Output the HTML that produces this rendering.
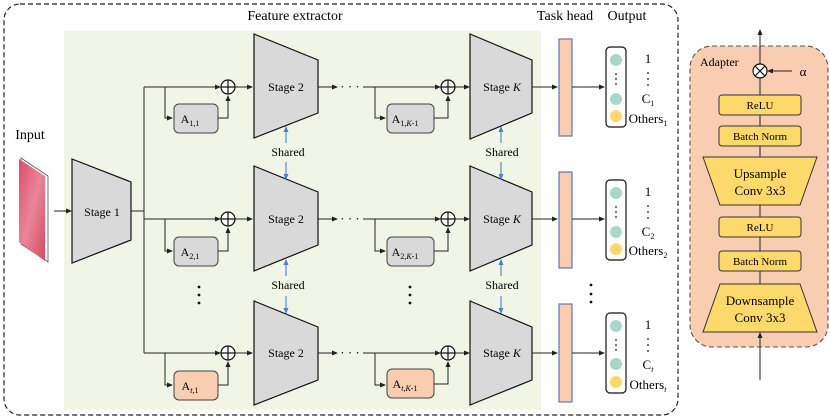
<!DOCTYPE html>
<html><head><meta charset="utf-8"><style>
html,body{margin:0;padding:0;background:#fff;}
svg{display:block;}
text,tspan{font-family:"Liberation Serif","DejaVu Serif",serif;}
</style></head><body>
<svg width="830" height="419" viewBox="0 0 830 419" xmlns="http://www.w3.org/2000/svg" font-family="'Liberation Serif', serif">
<defs>
<marker id="ar" markerWidth="6" markerHeight="6" refX="5" refY="3" orient="auto" markerUnits="userSpaceOnUse"><path d="M0,0.5 L6,3 L0,5.5 z" fill="#222"/></marker>
<marker id="ab" markerWidth="6" markerHeight="6" refX="5" refY="3" orient="auto" markerUnits="userSpaceOnUse"><path d="M0,0.5 L6,3 L0,5.5 z" fill="#4a7fd0"/></marker>
<linearGradient id="img" x1="0" y1="0" x2="1" y2="1"><stop offset="0" stop-color="#d9506a"/><stop offset="0.5" stop-color="#e9869a"/><stop offset="1" stop-color="#d44a5c"/></linearGradient>
</defs>
<rect x="4" y="4" width="674" height="411" rx="16" fill="none" stroke="#222" stroke-width="1.2" stroke-dasharray="5,3"/>
<rect x="64" y="31" width="477" height="379" fill="#f1f5e5"/>
<text x="295" y="20" font-size="14" text-anchor="middle">Feature extractor</text>
<text x="565" y="20" font-size="14" text-anchor="middle">Task head</text>
<text x="627" y="20" font-size="14" text-anchor="middle">Output</text>
<text x="30" y="139" font-size="14" text-anchor="middle">Input</text>
<polygon points="21,158 48,176 48,262 21,244" fill="#fff" stroke="#555" stroke-width="0.8"/>
<polygon points="19,159 45,176 45,261 19,242" fill="url(#img)"/>
<line x1="54" y1="211" x2="71" y2="211" stroke="#222" marker-end="url(#ar)"/>
<polygon points="72,159 131,182 131,240 72,263" fill="#d9d9d9" stroke="#111" stroke-width="1.2"/>
<text x="102" y="216" font-size="12" text-anchor="middle">Stage 1</text>
<polyline points="131,211 144,211" fill="none" stroke="#222"/>
<line x1="144" y1="87" x2="144" y2="353" stroke="#222"/>

<g>
<line x1="144" y1="87" x2="220" y2="87" stroke="#222" marker-end="url(#ar)"/>
<polyline points="165,87 165,118 172,118" fill="none" stroke="#222" marker-end="url(#ar)"/>
<rect x="174" y="104" width="44" height="29" rx="5" fill="#d9d9d9" stroke="#444"/>
<text x="190" y="123" font-size="12" text-anchor="middle">A<tspan font-size="8" dy="3">1,1</tspan></text>
<polyline points="218,118 228,118 228,96" fill="none" stroke="#222" marker-end="url(#ar)"/>
<circle cx="228" cy="87" r="7" fill="#fff" stroke="#111" stroke-width="1.2"/>
<path d="M221,87 H235 M228,80 V94" stroke="#111" stroke-width="1.2"/>
<line x1="235" y1="87" x2="252" y2="87" stroke="#222" marker-end="url(#ar)"/>
<polygon points="254,34 318,60 318,113 254,138" fill="#d9d9d9" stroke="#111" stroke-width="1.2"/>
<text x="286" y="91" font-size="12" text-anchor="middle">Stage 2</text>
<line x1="318" y1="87" x2="337" y2="87" stroke="#222" marker-end="url(#ar)"/>
<text x="350" y="91" font-size="13" text-anchor="middle">· · ·</text>
<line x1="363" y1="87" x2="440" y2="87" stroke="#222" marker-end="url(#ar)"/>
<polyline points="375,87 375,118 385,118" fill="none" stroke="#222" marker-end="url(#ar)"/>
<rect x="387" y="104" width="47" height="29" rx="5" fill="#d9d9d9" stroke="#444"/>
<text x="405" y="123" font-size="12" text-anchor="middle">A<tspan font-size="8" dy="3">1,<tspan font-style="italic">K</tspan>-1</tspan></text>
<polyline points="434,118 448,118 448,96" fill="none" stroke="#222" marker-end="url(#ar)"/>
<circle cx="448" cy="87" r="7" fill="#fff" stroke="#111" stroke-width="1.2"/>
<path d="M441,87 H455 M448,80 V94" stroke="#111" stroke-width="1.2"/>
<line x1="455" y1="87" x2="469" y2="87" stroke="#222" marker-end="url(#ar)"/>
<polygon points="470,34 532,60 532,113 470,139" fill="#d9d9d9" stroke="#111" stroke-width="1.2"/>
<text x="502" y="91" font-size="12" text-anchor="middle">Stage <tspan font-style="italic">K</tspan></text>
<line x1="532" y1="87" x2="557" y2="87" stroke="#222" marker-end="url(#ar)"/>
<rect x="559" y="39" width="13" height="97" fill="#f8cdb0" stroke="#5a7ab5" stroke-width="1.2"/>
<line x1="572" y1="87" x2="604" y2="87" stroke="#222" marker-end="url(#ar)"/>
<rect x="606" y="47" width="20" height="80" rx="4" fill="#fff" stroke="#111" stroke-width="1.2"/>
<circle cx="616" cy="60" r="6" fill="#a9d6cb"/>
<circle cx="616" cy="99" r="6" fill="#a9d6cb"/>
<circle cx="616" cy="116" r="6" fill="#fcd86e"/>
<circle cx="616" cy="74" r="0.9" fill="#111"/><circle cx="616" cy="79" r="0.9" fill="#111"/><circle cx="616" cy="84" r="0.9" fill="#111"/>
<text x="648" y="63" font-size="13" text-anchor="middle">1</text>
<circle cx="648" cy="73" r="0.9" fill="#111"/><circle cx="648" cy="79" r="0.9" fill="#111"/><circle cx="648" cy="85" r="0.9" fill="#111"/>
<text x="648" y="103" font-size="13" text-anchor="middle">C<tspan font-size="8" dy="3">1</tspan></text>
<text x="648" y="123" font-size="13" text-anchor="middle">Others<tspan font-size="8" dy="3">1</tspan></text>
</g>

<g>
<line x1="144" y1="219" x2="220" y2="219" stroke="#222" marker-end="url(#ar)"/>
<polyline points="165,219 165,251 172,251" fill="none" stroke="#222" marker-end="url(#ar)"/>
<rect x="174" y="237" width="44" height="29" rx="5" fill="#d9d9d9" stroke="#444"/>
<text x="190" y="256" font-size="12" text-anchor="middle">A<tspan font-size="8" dy="3">2,1</tspan></text>
<polyline points="218,251 228,251 228,228" fill="none" stroke="#222" marker-end="url(#ar)"/>
<circle cx="228" cy="219" r="7" fill="#fff" stroke="#111" stroke-width="1.2"/>
<path d="M221,219 H235 M228,212 V226" stroke="#111" stroke-width="1.2"/>
<line x1="235" y1="219" x2="252" y2="219" stroke="#222" marker-end="url(#ar)"/>
<polygon points="254,166 318,192 318,245 254,271" fill="#d9d9d9" stroke="#111" stroke-width="1.2"/>
<text x="286" y="223" font-size="12" text-anchor="middle">Stage 2</text>
<line x1="318" y1="219" x2="337" y2="219" stroke="#222" marker-end="url(#ar)"/>
<text x="350" y="223" font-size="13" text-anchor="middle">· · ·</text>
<line x1="363" y1="219" x2="440" y2="219" stroke="#222" marker-end="url(#ar)"/>
<polyline points="375,219 375,251 385,251" fill="none" stroke="#222" marker-end="url(#ar)"/>
<rect x="387" y="237" width="47" height="29" rx="5" fill="#d9d9d9" stroke="#444"/>
<text x="405" y="256" font-size="12" text-anchor="middle">A<tspan font-size="8" dy="3">2,<tspan font-style="italic">K</tspan>-1</tspan></text>
<polyline points="434,251 448,251 448,228" fill="none" stroke="#222" marker-end="url(#ar)"/>
<circle cx="448" cy="219" r="7" fill="#fff" stroke="#111" stroke-width="1.2"/>
<path d="M441,219 H455 M448,212 V226" stroke="#111" stroke-width="1.2"/>
<line x1="455" y1="219" x2="469" y2="219" stroke="#222" marker-end="url(#ar)"/>
<polygon points="470,166 532,192 532,245 470,271" fill="#d9d9d9" stroke="#111" stroke-width="1.2"/>
<text x="502" y="223" font-size="12" text-anchor="middle">Stage <tspan font-style="italic">K</tspan></text>
<line x1="532" y1="219" x2="557" y2="219" stroke="#222" marker-end="url(#ar)"/>
<rect x="559" y="172" width="13" height="96" fill="#f8cdb0" stroke="#5a7ab5" stroke-width="1.2"/>
<line x1="572" y1="219" x2="604" y2="219" stroke="#222" marker-end="url(#ar)"/>
<rect x="606" y="180" width="20" height="80" rx="4" fill="#fff" stroke="#111" stroke-width="1.2"/>
<circle cx="616" cy="193" r="6" fill="#a9d6cb"/>
<circle cx="616" cy="232" r="6" fill="#a9d6cb"/>
<circle cx="616" cy="249" r="6" fill="#fcd86e"/>
<circle cx="616" cy="207" r="0.9" fill="#111"/><circle cx="616" cy="212" r="0.9" fill="#111"/><circle cx="616" cy="217" r="0.9" fill="#111"/>
<text x="648" y="196" font-size="13" text-anchor="middle">1</text>
<circle cx="648" cy="206" r="0.9" fill="#111"/><circle cx="648" cy="212" r="0.9" fill="#111"/><circle cx="648" cy="218" r="0.9" fill="#111"/>
<text x="648" y="236" font-size="13" text-anchor="middle">C<tspan font-size="8" dy="3">2</tspan></text>
<text x="648" y="255" font-size="13" text-anchor="middle">Others<tspan font-size="8" dy="3">2</tspan></text>
</g>

<g>
<line x1="144" y1="353" x2="220" y2="353" stroke="#222" marker-end="url(#ar)"/>
<polyline points="165,353 165,385 172,385" fill="none" stroke="#222" marker-end="url(#ar)"/>
<rect x="174" y="371" width="44" height="29" rx="5" fill="#f8cdb0" stroke="#444"/>
<text x="190" y="390" font-size="12" text-anchor="middle">A<tspan font-size="8" dy="3"><tspan font-style="italic">t</tspan>,1</tspan></text>
<polyline points="218,385 228,385 228,362" fill="none" stroke="#222" marker-end="url(#ar)"/>
<circle cx="228" cy="353" r="7" fill="#fff" stroke="#111" stroke-width="1.2"/>
<path d="M221,353 H235 M228,346 V360" stroke="#111" stroke-width="1.2"/>
<line x1="235" y1="353" x2="252" y2="353" stroke="#222" marker-end="url(#ar)"/>
<polygon points="254,301 318,327 318,380 254,405" fill="#d9d9d9" stroke="#111" stroke-width="1.2"/>
<text x="286" y="357" font-size="12" text-anchor="middle">Stage 2</text>
<line x1="318" y1="353" x2="337" y2="353" stroke="#222" marker-end="url(#ar)"/>
<text x="350" y="357" font-size="13" text-anchor="middle">· · ·</text>
<line x1="363" y1="353" x2="440" y2="353" stroke="#222" marker-end="url(#ar)"/>
<polyline points="375,353 375,385 385,385" fill="none" stroke="#222" marker-end="url(#ar)"/>
<rect x="387" y="369" width="47" height="29" rx="5" fill="#f8cdb0" stroke="#444"/>
<text x="405" y="388" font-size="12" text-anchor="middle">A<tspan font-size="8" dy="3"><tspan font-style="italic">t</tspan>,<tspan font-style="italic">K</tspan>-1</tspan></text>
<polyline points="434,384 448,384 448,362" fill="none" stroke="#222" marker-end="url(#ar)"/>
<circle cx="448" cy="353" r="7" fill="#fff" stroke="#111" stroke-width="1.2"/>
<path d="M441,353 H455 M448,346 V360" stroke="#111" stroke-width="1.2"/>
<line x1="455" y1="353" x2="469" y2="353" stroke="#222" marker-end="url(#ar)"/>
<polygon points="470,301 532,327 532,380 470,405" fill="#d9d9d9" stroke="#111" stroke-width="1.2"/>
<text x="502" y="357" font-size="12" text-anchor="middle">Stage <tspan font-style="italic">K</tspan></text>
<line x1="532" y1="353" x2="557" y2="353" stroke="#222" marker-end="url(#ar)"/>
<rect x="559" y="304" width="13" height="98" fill="#f8cdb0" stroke="#5a7ab5" stroke-width="1.2"/>
<line x1="572" y1="353" x2="604" y2="353" stroke="#222" marker-end="url(#ar)"/>
<rect x="606" y="313" width="20" height="80" rx="4" fill="#fff" stroke="#111" stroke-width="1.2"/>
<circle cx="616" cy="326" r="6" fill="#a9d6cb"/>
<circle cx="616" cy="364" r="6" fill="#a9d6cb"/>
<circle cx="616" cy="382" r="6" fill="#fcd86e"/>
<circle cx="616" cy="340" r="0.9" fill="#111"/><circle cx="616" cy="345" r="0.9" fill="#111"/><circle cx="616" cy="350" r="0.9" fill="#111"/>
<text x="648" y="329" font-size="13" text-anchor="middle">1</text>
<circle cx="648" cy="339" r="0.9" fill="#111"/><circle cx="648" cy="345" r="0.9" fill="#111"/><circle cx="648" cy="351" r="0.9" fill="#111"/>
<text x="648" y="369" font-size="13" text-anchor="middle">C<tspan font-size="8" dy="3" font-style="italic">t</tspan></text>
<text x="648" y="389" font-size="13" text-anchor="middle">Others<tspan font-size="8" dy="3" font-style="italic">t</tspan></text>
</g>

<g font-size="12" text-anchor="middle">
<text x="288" y="156">Shared</text>
<text x="502" y="156">Shared</text>
<text x="288" y="289">Shared</text>
<text x="502" y="289">Shared</text>
</g>
<g stroke="#4a7fd0" stroke-width="1.1">
<line x1="286" y1="143" x2="286" y2="127" marker-end="url(#ab)"/>
<line x1="286" y1="162" x2="286" y2="179" marker-end="url(#ab)"/>
<line x1="501" y1="143" x2="501" y2="127" marker-end="url(#ab)"/>
<line x1="501" y1="162" x2="501" y2="179" marker-end="url(#ab)"/>
<line x1="286" y1="276" x2="286" y2="260" marker-end="url(#ab)"/>
<line x1="286" y1="296" x2="286" y2="313" marker-end="url(#ab)"/>
<line x1="501" y1="276" x2="501" y2="260" marker-end="url(#ab)"/>
<line x1="501" y1="296" x2="501" y2="313" marker-end="url(#ab)"/>
</g>
<g fill="#111">
<circle cx="199" cy="287" r="1.4"/><circle cx="199" cy="295" r="1.4"/><circle cx="199" cy="303" r="1.4"/>
<circle cx="410" cy="287" r="1.4"/><circle cx="410" cy="295" r="1.4"/><circle cx="410" cy="303" r="1.4"/>
<circle cx="591" cy="285" r="1.4"/><circle cx="591" cy="294" r="1.4"/><circle cx="591" cy="302" r="1.4"/>
</g>

<rect x="690" y="46" width="138" height="301" rx="22" fill="#f9cdb1" stroke="#555" stroke-width="1.1" stroke-dasharray="5,3"/>
<text x="700" y="66" font-size="12">Adapter</text>
<line x1="760" y1="380" x2="760" y2="333" stroke="#222" marker-end="url(#ar)"/>
<line x1="760" y1="284" x2="760" y2="78" stroke="#222"/>
<line x1="760" y1="64" x2="760" y2="30" stroke="#222" marker-end="url(#ar)"/>
<circle cx="760" cy="71" r="7" fill="#fff" stroke="#111" stroke-width="1.2"/>
<path d="M755,66 L765,76 M765,66 L755,76" stroke="#111" stroke-width="1.2"/>
<line x1="792" y1="71" x2="768" y2="71" stroke="#222" marker-end="url(#ar)"/>
<text x="803" y="76" font-size="13" text-anchor="middle">α</text>
<g fill="#fdd86b" stroke="#333" stroke-width="1">
<rect x="719" y="95" width="82" height="20" rx="3"/>
<rect x="719" y="126" width="82" height="20" rx="3"/>
<polygon points="703,157 817,157 800,205 720,205"/>
<rect x="719" y="217" width="82" height="20" rx="3"/>
<rect x="719" y="251" width="82" height="20" rx="3"/>
<polygon points="720,284 800,284 817,332 703,332"/>
</g>
<g font-size="11" text-anchor="middle">
<text x="760" y="109">ReLU</text>
<text x="760" y="140">Batch Norm</text>
<text x="760" y="231">ReLU</text>
<text x="760" y="265">Batch Norm</text>
</g>
<g font-size="13" text-anchor="middle">
<text x="760" y="178">Upsample</text>
<text x="760" y="195">Conv 3x3</text>
<text x="760" y="305">Downsample</text>
<text x="760" y="322">Conv 3x3</text>
</g>
</svg>
</body></html>
